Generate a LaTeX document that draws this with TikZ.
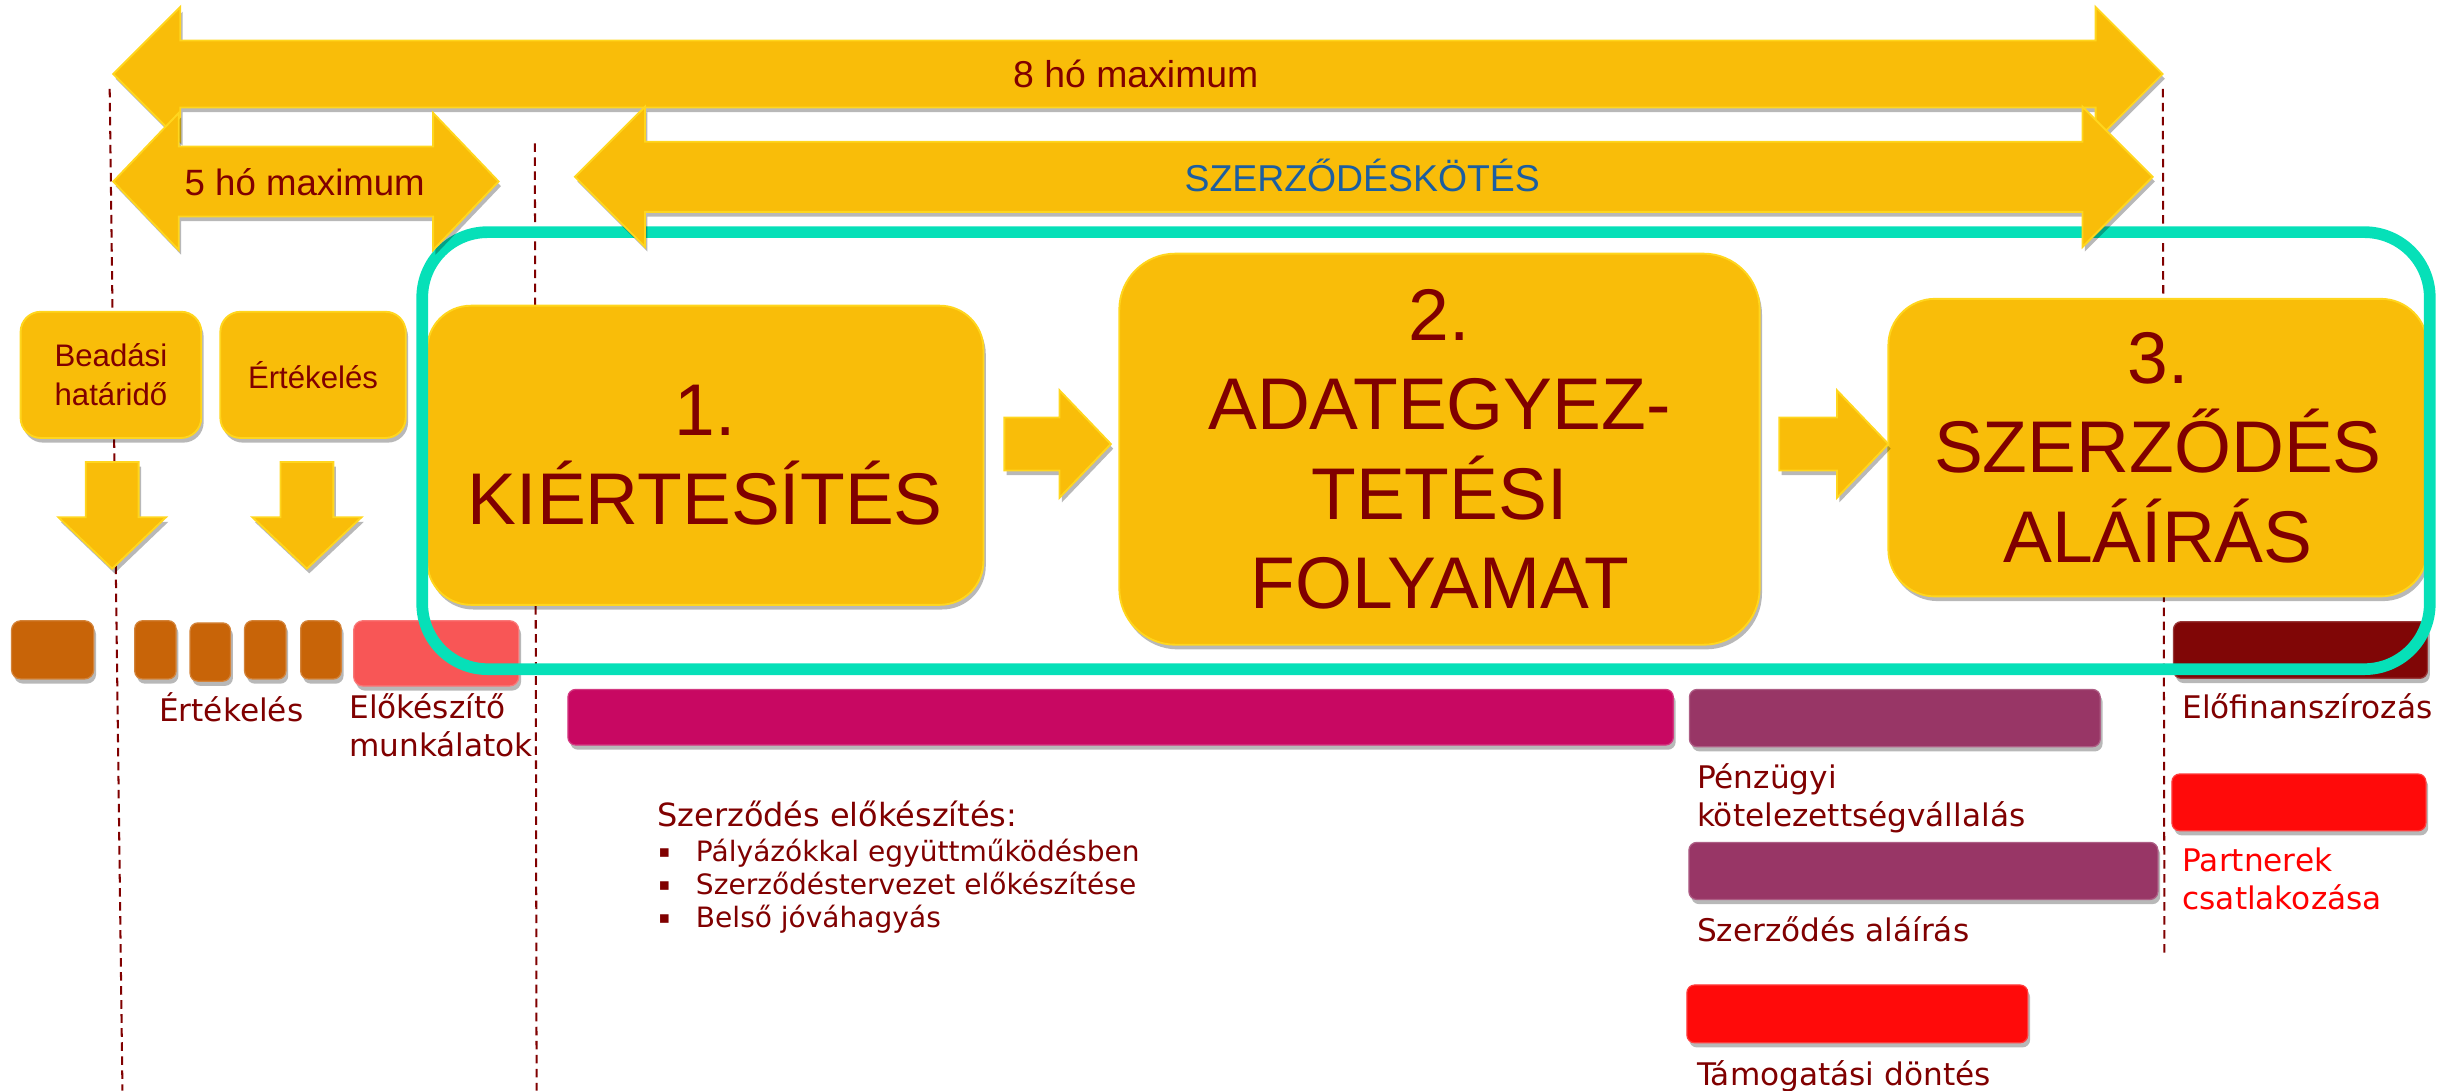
\documentclass[tikz,border=0pt]{standalone}
\usepackage{fontspec}
\setmainfont{Liberation Sans}
\newfontfamily\vfont{DejaVu Sans}
\usetikzlibrary{shadows}
\definecolor{ygold}{RGB}{249,189,9}
\definecolor{yedge}{RGB}{255,214,30}
\definecolor{dred}{RGB}{128,0,0}
\definecolor{txtblue}{RGB}{28,94,160}
\definecolor{orng}{RGB}{200,100,8}
\definecolor{salmon}{RGB}{248,86,86}
\definecolor{magbar}{RGB}{200,8,98}
\definecolor{purpbar}{RGB}{152,54,102}
\definecolor{brred}{RGB}{255,10,10}
\definecolor{darkbar}{RGB}{128,6,6}
\definecolor{tealc}{RGB}{6,224,184}
\definecolor{redtxt}{RGB}{255,0,0}
\newcommand\dblarr[6]{%
  \fill[arrsty] (#1,#3) -- (#1+#6,#3-#5) -- (#1+#6,#3-#4) -- (#2-#6,#3-#4) -- (#2-#6,#3-#5) -- (#2,#3)
    -- (#2-#6,#3+#5) -- (#2-#6,#3+#4) -- (#1+#6,#3+#4) -- (#1+#6,#3+#5) -- cycle;}
\newcommand\rarr[6]{%
  \fill[arrsty] (#1,#3-#4) -- (#2-#6,#3-#4) -- (#2-#6,#3-#5) -- (#2,#3) -- (#2-#6,#3+#5) -- (#2-#6,#3+#4) -- (#1,#3+#4) -- cycle;}
\newcommand\darr[6]{%
  \fill[arrsty] (#1-#4,#2) -- (#1+#4,#2) -- (#1+#4,#3-#6) -- (#1+#5,#3-#6) -- (#1,#3) -- (#1-#5,#3-#6) -- (#1-#4,#3-#6) -- cycle;}
\begin{document}
\begin{tikzpicture}[x=1pt,y=-1pt,
  shd/.style={drop shadow={shadow xshift=1.5pt,shadow yshift=-3pt,opacity=0.28,fill=black}},
  arrsty/.style={fill=ygold,draw=yedge,line width=1.2pt,shd},
  ybox/.style={rectangle,rounded corners=#1,fill=ygold,draw=yedge,line width=1.2pt,shd,inner sep=0pt,text=dred,align=center},
  ybox/.default=12pt,
  bar/.style={rectangle,rounded corners=5pt,fill=#1,draw=#1!80!white,line width=0.8pt,shd,inner sep=0pt},
  lbl/.style={anchor=base west,inner sep=0pt,text=dred,font={\vfont\fontsize{20}{24}\selectfont}},
  bul/.style={anchor=center,inner sep=0pt,text=dred,font={\vfont\fontsize{11}{13}\selectfont}},
  dline/.style={draw=dred,line width=1.3pt,dash pattern=on 5.5pt off 3.5pt}]
\useasboundingbox (0,0) rectangle (1568,700);
% dashed guide lines
\draw[dline] (70.4,57) -- (78.6,700);
\draw[dline] (343.3,92) -- (344.4,700);
\draw[dline] (1388.2,57) -- (1389.2,614);
% small yellow boxes
\node[ybox=13pt,minimum width=116pt,minimum height=81pt,font={\fontsize{20}{24.7}\selectfont}] (bead) at (71.2,240.6) {Beadási\\határidő};
\node[ybox=13pt,minimum width=119pt,minimum height=81pt,font={\fontsize{20}{24.7}\selectfont}] (ert) at (200.9,240.6) {Értékelés};
% big boxes
\node[ybox=28pt,minimum width=357pt,minimum height=192pt,font={\fontsize{47}{57.5}\selectfont}] (k1) at (452.7,292.2) {1.\\KIÉRTESÍTÉS};
\node[ybox=36pt,minimum width=411pt,minimum height=251pt,font={\fontsize{47}{57.5}\selectfont}] (k2) at (923.9,288.3) {2.\\ADATEGYEZ-\\TETÉSI\\FOLYAMAT};
\node[ybox=30pt,minimum width=346pt,minimum height=191pt,font={\fontsize{47}{57.5}\selectfont}] (k3) at (1385,287.3) {3.\\SZERZŐDÉS\\ALÁÍRÁS};
% small arrows
\rarr{644.6}{713}{285}{17}{34.5}{33}
\rarr{1142}{1212}{285}{17}{34.5}{33}
\darr{72}{296.5}{365}{17}{34.5}{33}
\darr{197}{296.5}{365}{17}{35}{33}
% orange blocks
\node[bar=orng,rounded corners=6pt,minimum width=52.8pt,minimum height=37.4pt] (o1) at (33.8,417.1) {};
\node[bar=orng,rounded corners=5pt,minimum width=26.5pt,minimum height=37.4pt] (o2) at (99.75,417.1) {};
\node[bar=orng,rounded corners=5pt,minimum width=26pt,minimum height=37.4pt] (o3) at (135,418.5) {};
\node[bar=orng,rounded corners=5pt,minimum width=26.5pt,minimum height=37.4pt] (o4) at (170.25,417.1) {};
\node[bar=orng,rounded corners=5pt,minimum width=26pt,minimum height=37.4pt] (o5) at (206,417.1) {};
\node[bar=salmon,rounded corners=6pt,minimum width=106pt,minimum height=41.9pt] (sal) at (280,419.35) {};
% bars
\node[bar=magbar,minimum width=709.5pt,minimum height=35.7pt] (mag) at (719.25,460.35) {};
\node[bar=purpbar,minimum width=263.7pt,minimum height=36.8pt] (p1) at (1216.15,460.9) {};
\node[bar=purpbar,minimum width=301pt,minimum height=36.6pt] (p2) at (1234.5,559) {};
\node[bar=brred,minimum width=218.8pt,minimum height=37.1pt] (r2) at (1192.1,650.75) {};
\node[bar=darkbar,minimum width=163pt,minimum height=36.4pt] (db) at (1476.5,417.2) {};
\node[bar=brred,minimum width=163pt,minimum height=36.4pt] (r1) at (1475.5,515) {};
% labels
\node[lbl] (lert) at (102,463.2) {Értékelés};
\node[lbl] (lelo1) at (224,461) {Előkészítő};
\node[lbl] (lelo2) at (224,485.3) {munkálatok};
\node[lbl] (lpen1) at (1089,506) {Pénzügyi};
\node[lbl] (lpen2) at (1089,530.6) {kötelezettségvállalás};
\node[lbl] (lszal) at (1089,604.4) {Szerződés aláírás};
\node[lbl] (ltam) at (1089,696.4) {Támogatási döntés};
\node[lbl] (lelof) at (1400.6,461) {Előfinanszírozás};
\node[lbl,text=redtxt] (lpar1) at (1400.6,559.5) {Partnerek};
\node[lbl,text=redtxt] (lpar2) at (1400.6,584) {csatlakozása};
\node[lbl,font={\vfont\fontsize{20.5}{24}\selectfont}] (ttl) at (421.8,530.6) {Szerződés előkészítés:};
\node[bul] (bu1) at (426.5,547.5) {▪};
\node[lbl,font={\vfont\fontsize{18}{21}\selectfont}] (bt1) at (446.5,553) {Pályázókkal együttműködésben};
\node[bul] (bu2) at (426.5,568.7) {▪};
\node[lbl,font={\vfont\fontsize{18}{21}\selectfont}] (bt2) at (446.5,574.3) {Szerződéstervezet előkészítése};
\node[bul] (bu3) at (426.5,590) {▪};
\node[lbl,font={\vfont\fontsize{18}{21}\selectfont}] (bt3) at (446.5,595.6) {Belső jóváhagyás};
% teal frame
\draw[tealc,line width=7.5pt,rounded corners=42pt] (271,149) rectangle (1559.5,429.5);
% big double arrows
\dblarr{72.7}{1388}{47.5}{21.5}{43}{43}
\dblarr{72.7}{320}{116.5}{22.5}{44}{42}
\dblarr{369}{1381.6}{113.5}{22.5}{45}{45}
\node[anchor=base,inner sep=0pt,text=dred,font={\fontsize{24}{28}\selectfont}] (t8) at (729,56.2) {8 hó maximum};
\node[anchor=base,inner sep=0pt,text=dred,font={\fontsize{23.5}{28}\selectfont}] (t5) at (195.6,125.2) {5 hó maximum};
\node[anchor=base,inner sep=0pt,text=txtblue,font={\fontsize{24}{28}\selectfont}] (tsz) at (874.3,122.7) {SZERZŐDÉSKÖTÉS};
\end{tikzpicture}
\end{document}
